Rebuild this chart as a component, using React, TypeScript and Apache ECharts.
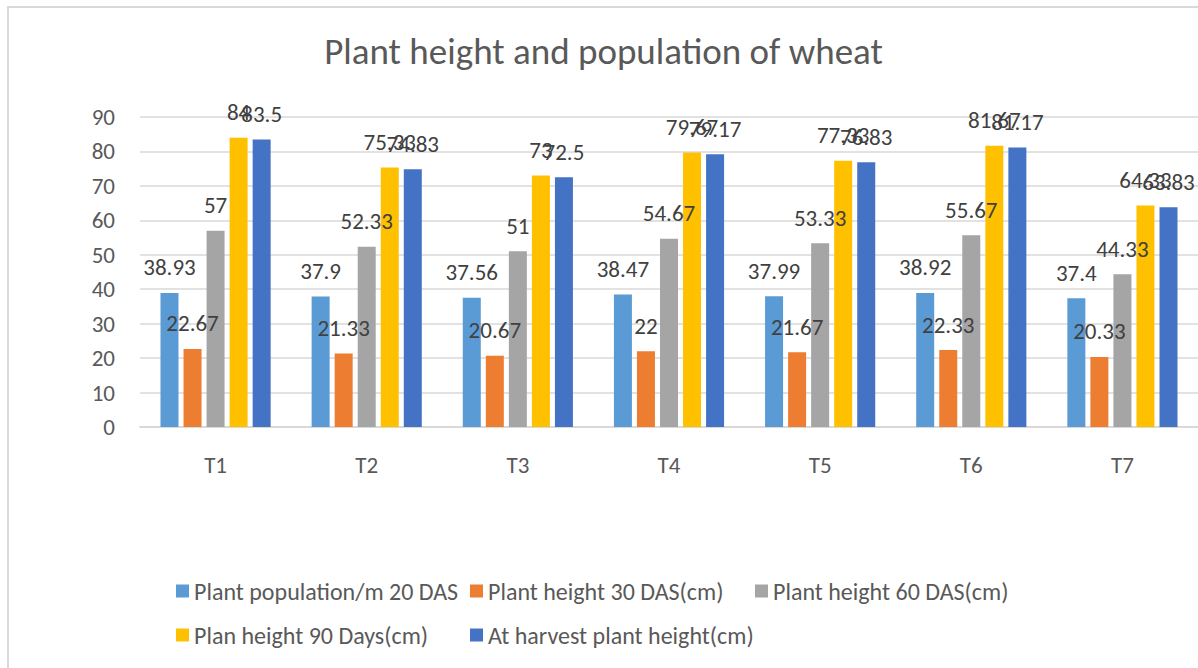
import React, { useEffect, useRef } from "react";
import * as echarts from "echarts";

const categories = ["T1", "T2", "T3", "T4", "T5", "T6", "T7"];
const seriesNames = [
  "Plant population/m 20 DAS",
  "Plant height 30 DAS(cm)",
  "Plant height 60 DAS(cm)",
  "Plan height 90 Days(cm)",
  "At harvest plant height(cm)",
];
const population20 = [38.93, 37.9, 37.56, 38.47, 37.99, 38.92, 37.4];
const height30 = [22.67, 21.33, 20.67, 22, 21.67, 22.33, 20.33];
const height60 = [57, 52.33, 51, 54.67, 53.33, 55.67, 44.33];
const height90 = [84, 75.33, 73, 79.67, 77.33, 81.67, 64.33];
const harvest = [83.5, 74.83, 72.5, 79.17, 76.83, 81.17, 63.83];
const colors = ["#5B9BD5", "#ED7D31", "#A5A5A5", "#FFC000", "#4472C4"];
const yTicks = { min: 0, max: 90, interval: 10 };

const FONT = "Carlito, Lato, 'Open Sans', sans-serif";

export default function App() {
  const ref = useRef<HTMLDivElement>(null);
  useEffect(() => {
    if (!ref.current) return;
    const chart = echarts.init(ref.current, null, { renderer: "svg" });
    const allData = [population20, height30, height60, height90, harvest];
    const legendPos = [
      { left: 162, top: 566 },
      { left: 456, top: 566 },
      { left: 741, top: 566 },
      { left: 162, top: 610 },
      { left: 456, top: 610 },
    ];
    chart.setOption({
      animation: false,
      backgroundColor: "#ffffff",
      title: {
        text: "Plant height and population of wheat",
        left: "center",
        top: 20,
        textStyle: {
          fontFamily: FONT,
          fontSize: 37,
          fontWeight: 300,
          color: "#595959",
        },
      },
      legend: seriesNames.map((n, i) => ({
        data: [n],
        left: legendPos[i].left,
        top: legendPos[i].top,
        icon: "rect",
        itemWidth: 13,
        itemHeight: 13,
        itemGap: 7,
        textStyle: { fontFamily: FONT, fontSize: 24, color: "#595959" },
      })),
      grid: { left: 131, right: -10, top: 109, bottom: 241, containLabel: false },
      xAxis: {
        type: "category",
        data: categories,
        axisLine: { lineStyle: { color: "#d9d9d9", width: 2 } },
        axisTick: { show: false },
        axisLabel: {
          fontFamily: FONT,
          fontSize: 23,
          color: "#595959",
          margin: 26,
        },
      },
      yAxis: {
        type: "value",
        min: yTicks.min,
        max: yTicks.max,
        interval: yTicks.interval,
        axisLine: { show: false },
        axisTick: { show: false },
        splitLine: { lineStyle: { color: "#d9d9d9", width: 1.5 } },
        axisLabel: {
          fontFamily: FONT,
          fontSize: 23,
          color: "#595959",
          margin: 25,
        },
      },
      series: seriesNames.map((n, i) => ({
        name: n,
        type: "bar",
        data: allData[i],
        barWidth: 18,
        barGap: "28%",
        itemStyle: { color: colors[i] },
        label: {
          show: true,
          position: "top",
          distance: 14,
          fontFamily: FONT,
          fontSize: 23,
          color: "#404040",
        },
      })),
    });
    return () => chart.dispose();
  }, []);
  return (
    <div
      style={{
        position: "absolute",
        left: 7,
        top: 6,
        width: 1189,
        height: 660,
        borderTop: "2px solid #d9d9d9",
        borderLeft: "2px solid #d9d9d9",
        background: "#fff",
      }}
    >
      <div ref={ref} style={{ width: 1189, height: 660 }} />
    </div>
  );
}
